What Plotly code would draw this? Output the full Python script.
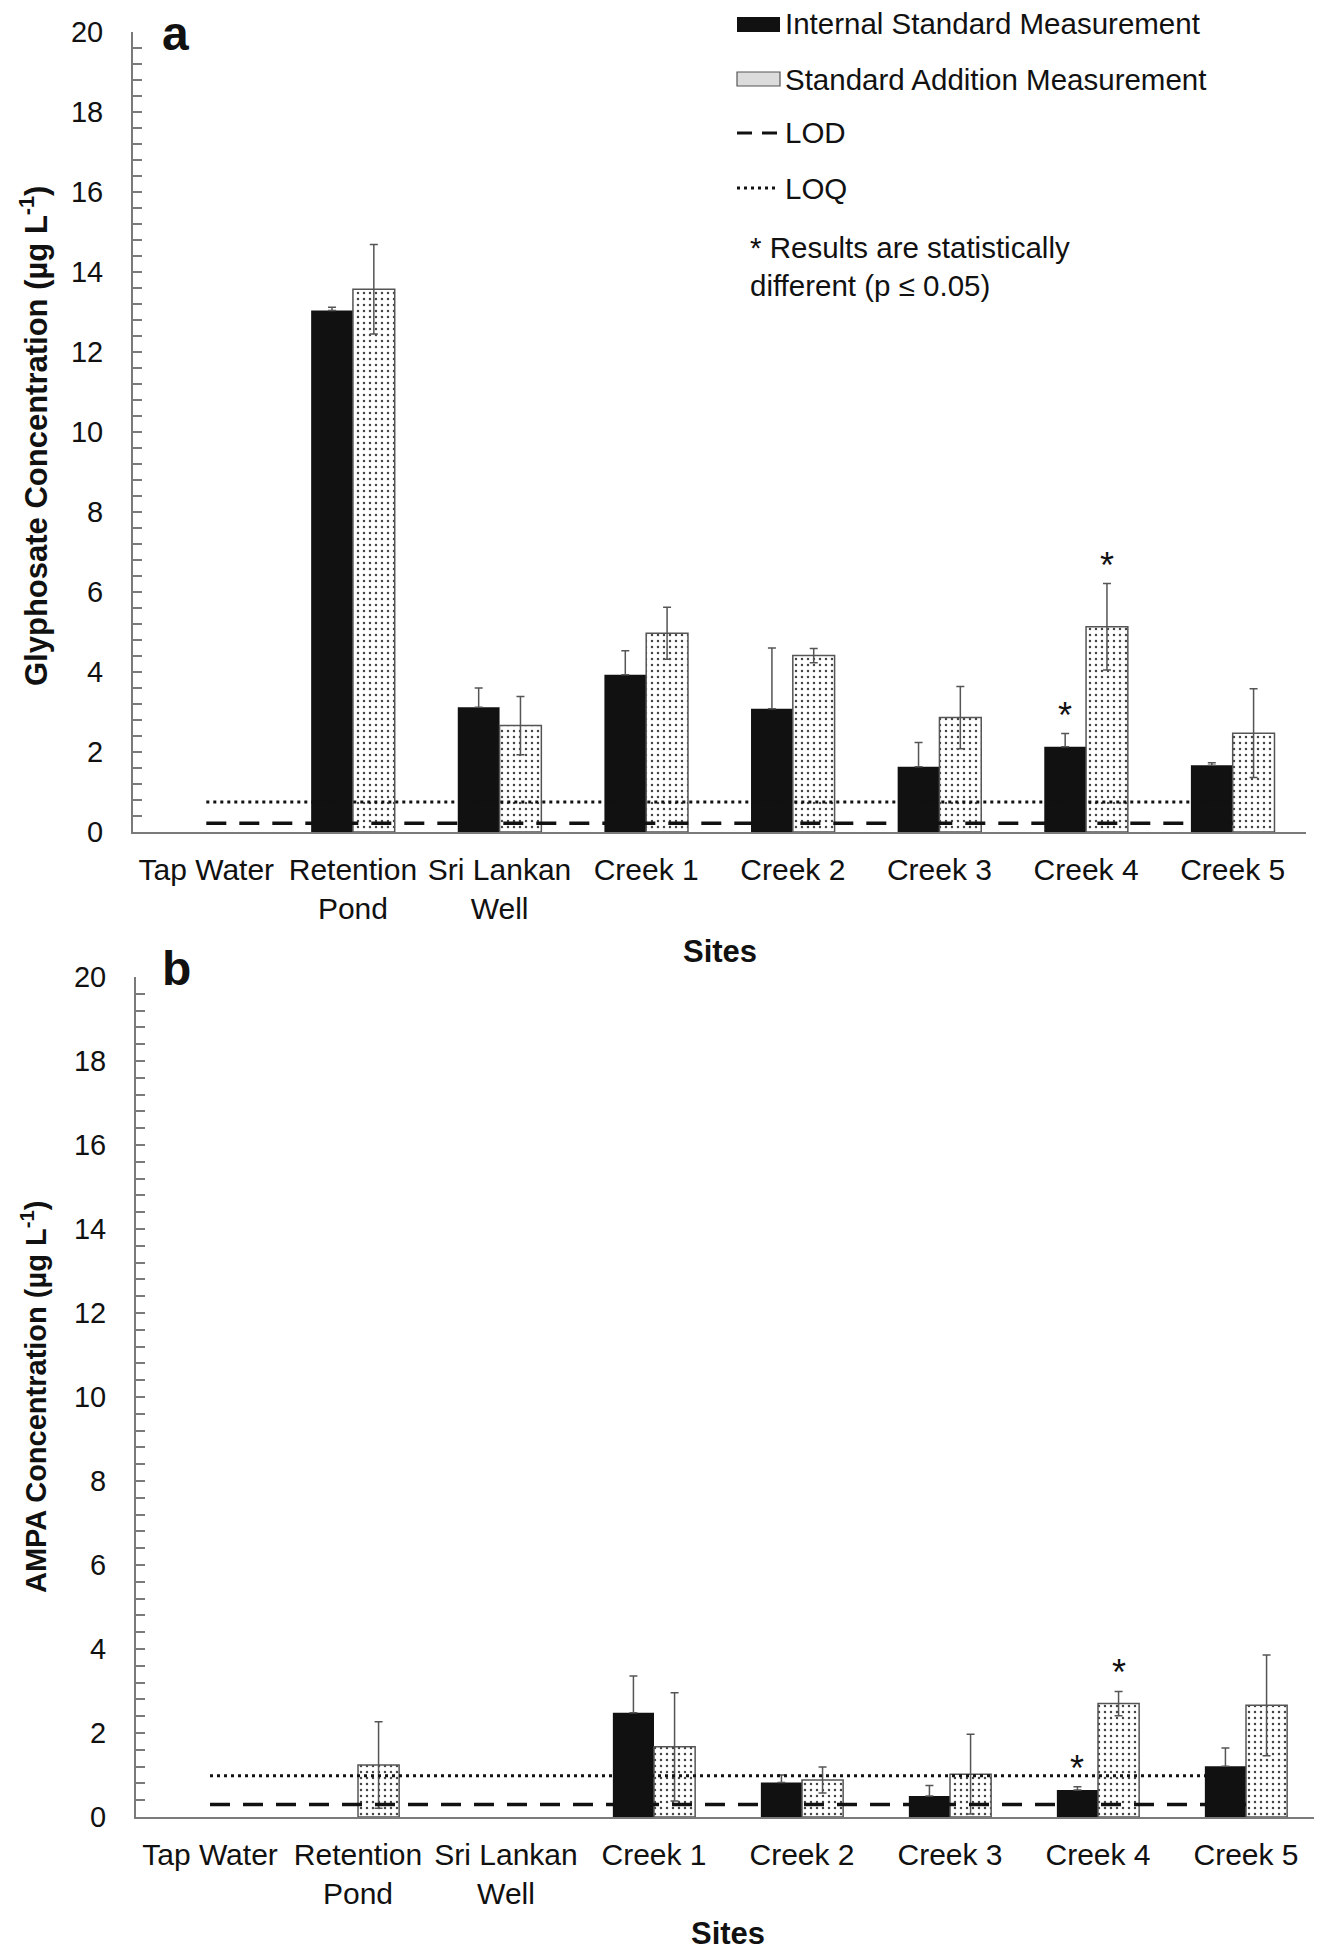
import plotly.graph_objects as go

# ---------------- data ----------------
sites = ["Tap Water", "Retention<br>Pond", "Sri Lankan<br>Well", "Creek 1",
         "Creek 2", "Creek 3", "Creek 4", "Creek 5"]
site_idx = list(range(len(sites)))

gly_internal = [None, 13.04, 3.12, 3.93, 3.08, 1.63, 2.13, 1.67]
gly_internal_err = [None, 0.08, 0.48, 0.60, 1.52, 0.61, 0.33, 0.06]
gly_addition = [None, 13.57, 2.66, 4.97, 4.41, 2.86, 5.13, 2.47]
gly_addition_err = [None, 1.12, 0.73, 0.65, 0.18, 0.78, 1.08, 1.11]
gly_lod = 0.22
gly_loq = 0.75

ampa_internal = [None, None, None, 2.48, 0.82, 0.50, 0.64, 1.21]
ampa_internal_err = [None, None, None, 0.88, 0.18, 0.25, 0.08, 0.43]
ampa_addition = [None, 1.24, None, 1.67, 0.88, 1.02, 2.70, 2.66]
ampa_addition_err = [None, 1.03, None, 1.29, 0.31, 0.95, 0.29, 1.20]
ampa_lod = 0.30
ampa_loq = 0.98

# statistically different (p <= 0.05)
significant = [False, False, False, False, False, False, True, False]

# ---------------- style ----------------
W, H = 1322, 1950
PAGE_OFFSET = 8  # browser body margin
FONT = "Liberation Sans, Arial, sans-serif"
AXIS_GREY = "#7a7a7a"
ERR_GREY = "#555555"
BLACK = "#111111"


def px(x):
    return (x - PAGE_OFFSET) / W


def py(y):
    return 1 - (y - PAGE_OFFSET) / H


fig = go.Figure()

panels = [
    dict(xa="x", ya="y", internal=gly_internal, ierr=gly_internal_err,
         addition=gly_addition, aerr=gly_addition_err, lod=gly_lod, loq=gly_loq,
         width=0.285),
    dict(xa="x2", ya="y2", internal=ampa_internal, ierr=ampa_internal_err,
         addition=ampa_addition, aerr=ampa_addition_err, lod=ampa_lod, loq=ampa_loq,
         width=0.278),
]

for p in panels:
    w = p["width"]
    fig.add_trace(go.Bar(
        x=site_idx, y=p["internal"], width=w, offset=-w,
        xaxis=p["xa"], yaxis=p["ya"], showlegend=False,
        marker=dict(color=BLACK, line=dict(width=0)),
        error_y=dict(type="data", array=p["ierr"], symmetric=False,
                     arrayminus=[0 if e is not None else None for e in p["ierr"]],
                     visible=True, color=ERR_GREY, thickness=1.5, width=4),
    ))
    fig.add_trace(go.Bar(
        x=site_idx, y=p["addition"], width=w, offset=0,
        xaxis=p["xa"], yaxis=p["ya"], showlegend=False,
        marker=dict(color="white",
                    line=dict(color="#555555", width=1.5),
                    pattern=dict(shape=".", fgcolor="#444444", bgcolor="white",
                                 size=6, solidity=0.13)),
        error_y=dict(type="data", array=p["aerr"], visible=True,
                     color=ERR_GREY, thickness=1.5, width=4),
    ))
    fig.add_trace(go.Scatter(
        x=site_idx, y=[p["loq"]] * len(sites), mode="lines",
        xaxis=p["xa"], yaxis=p["ya"], showlegend=False,
        line=dict(color=BLACK, width=3, dash="3px,4px"),
    ))
    fig.add_trace(go.Scatter(
        x=site_idx, y=[p["lod"]] * len(sites), mode="lines",
        xaxis=p["xa"], yaxis=p["ya"], showlegend=False,
        line=dict(color=BLACK, width=3.5, dash="20px,13px"),
    ))

annotations = []
# significance asterisks
for p in panels:
    w = p["width"]
    for i, sig in enumerate(significant):
        if not sig:
            continue
        for val, err, off in ((p["internal"][i], p["ierr"][i], -w / 2),
                              (p["addition"][i], p["aerr"][i], w / 2)):
            annotations.append(dict(
                x=i + off, y=val + err, xref=p["xa"], yref=p["ya"],
                text="*", showarrow=False, xanchor="center", yanchor="bottom",
                yshift=-4, font=dict(family=FONT, size=36, color=BLACK)))

tick_font = dict(family=FONT, size=29, color=BLACK)
xtick_font = dict(family=FONT, size=30, color=BLACK)


def yaxis_cfg(domain, anchor):
    return dict(
        domain=domain, anchor=anchor, range=[0, 20], dtick=2, tick0=0,
        showline=True, linecolor=AXIS_GREY, linewidth=2,
        ticks="inside", ticklen=9, tickwidth=1.5, tickcolor=AXIS_GREY,
        minor=dict(dtick=0.4, tick0=0, ticks="inside", ticklen=9,
                   tickwidth=1.5, tickcolor=AXIS_GREY),
        showgrid=False, zeroline=False, tickfont=tick_font,
        ticklabelstandoff=22, fixedrange=True, automargin=False,
    )


def xaxis_cfg(domain, anchor):
    return dict(
        domain=domain, anchor=anchor, range=[-0.5, len(sites) - 0.5],
        tickmode="array", tickvals=site_idx, ticktext=sites,
        showline=True, linecolor=AXIS_GREY, linewidth=2,
        ticks="", showgrid=False, zeroline=False, tickfont=xtick_font,
        ticklabelstandoff=10, tickangle=0, fixedrange=True, automargin=False,
    )


title_font = dict(family=FONT, size=31, color=BLACK)

# axis titles & panel letters
annotations += [
    dict(x=px(720), y=py(951), xref="paper", yref="paper", text="<b>Sites</b>",
         showarrow=False, xanchor="center", yanchor="middle", font=title_font),
    dict(x=px(728), y=py(1933), xref="paper", yref="paper", text="<b>Sites</b>",
         showarrow=False, xanchor="center", yanchor="middle", font=title_font),
    dict(x=px(34), y=py(436), xref="paper", yref="paper", textangle=-90,
         text="<b>Glyphosate Concentration (µg L<sup>-1</sup>)</b>",
         showarrow=False, xanchor="center", yanchor="middle",
         font=dict(family=FONT, size=31, color=BLACK)),
    dict(x=px(34), y=py(1397), xref="paper", yref="paper", textangle=-90,
         text="<b>AMPA Concentration (µg L<sup>-1</sup>)</b>",
         showarrow=False, xanchor="center", yanchor="middle",
         font=dict(family=FONT, size=29, color=BLACK)),
    dict(x=px(175), y=py(34), xref="paper", yref="paper", text="<b>a</b>",
         showarrow=False, xanchor="center", yanchor="middle",
         font=dict(family=FONT, size=48, color=BLACK)),
    dict(x=px(176), y=py(968), xref="paper", yref="paper", text="<b>b</b>",
         showarrow=False, xanchor="center", yanchor="middle",
         font=dict(family=FONT, size=48, color=BLACK)),
]

# manual legend
legend_font = dict(family=FONT, size=29.5, color=BLACK)
legend_items = [("Internal Standard Measurement", 24),
                ("Standard Addition Measurement", 79),
                ("LOD", 133),
                ("LOQ", 188)]
for label, yc in legend_items:
    annotations.append(dict(x=px(783), y=py(yc), xref="paper", yref="paper",
                            text=label, showarrow=False, xanchor="left",
                            yanchor="middle", font=legend_font))
annotations.append(dict(x=px(748), y=py(266), xref="paper", yref="paper",
                        text="* Results are statistically<br>different (p ≤ 0.05)",
                        showarrow=False, xanchor="left", yanchor="middle",
                        align="left", font=legend_font))

shapes = [
    dict(type="rect", xref="paper", yref="paper", x0=px(737), x1=px(780),
         y0=py(32), y1=py(17), fillcolor=BLACK, line=dict(width=0)),
    dict(type="rect", xref="paper", yref="paper", x0=px(737), x1=px(780),
         y0=py(86), y1=py(72), fillcolor="#dcdcdc",
         line=dict(color="#555555", width=1.2)),
    dict(type="line", xref="paper", yref="paper", x0=px(737), x1=px(752),
         y0=py(133), y1=py(133), line=dict(color=BLACK, width=3)),
    dict(type="line", xref="paper", yref="paper", x0=px(762), x1=px(777),
         y0=py(133), y1=py(133), line=dict(color=BLACK, width=3)),
    dict(type="line", xref="paper", yref="paper", x0=px(737), x1=px(778),
         y0=py(188), y1=py(188), line=dict(color=BLACK, width=3, dash="3px,4px")),
]

fig.update_layout(
    template="none",
    width=W, height=H, autosize=False,
    margin=dict(l=0, r=0, t=0, b=0, pad=0),
    paper_bgcolor="white", plot_bgcolor="white",
    barmode="overlay", showlegend=False,
    font=dict(family=FONT, color=BLACK),
    xaxis=xaxis_cfg([px(133), px(1306)], "y"),
    yaxis=yaxis_cfg([py(832), py(32)], "x"),
    xaxis2=xaxis_cfg([px(136), px(1320)], "y2"),
    yaxis2=yaxis_cfg([py(1817), py(977)], "x2"),
    annotations=annotations,
    shapes=shapes,
)

fig.write_html("out.html")
